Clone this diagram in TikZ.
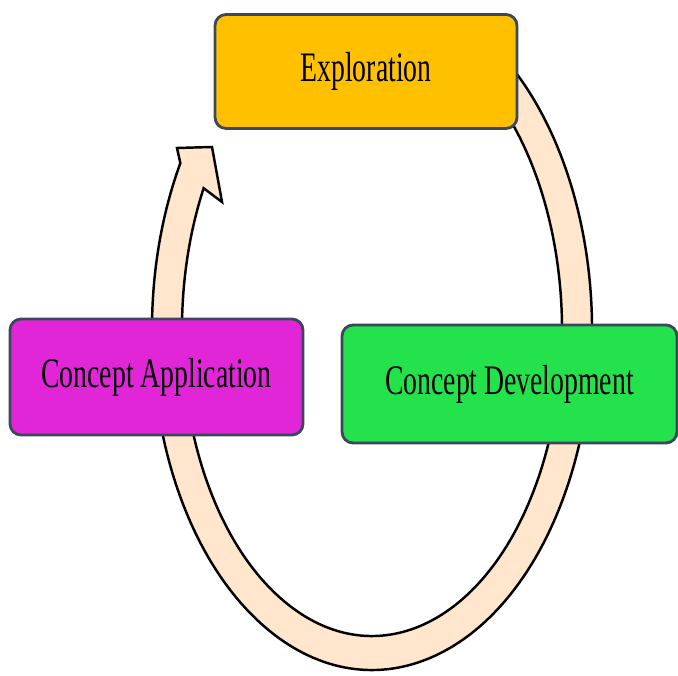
\documentclass[tikz,border=0pt]{standalone}
\usepackage{fontspec}
\newfontfamily\boxfont[FakeStretch=0.66]{Liberation Serif}
\usetikzlibrary{calc}
\definecolor{explorgold}{RGB}{255,192,0}
\definecolor{devgreen}{RGB}{35,226,76}
\definecolor{appmagenta}{RGB}{224,38,214}
\definecolor{boxedge}{RGB}{59,72,92}
\definecolor{ringfill}{RGB}{255,230,204}
\tikzset{stagebox/.style={draw=boxedge, line width=1.6pt, rounded corners=0.22cm, inner sep=0pt, outer sep=0pt, font=\boxfont\fontsize{23.9}{28}\selectfont}}

\begin{document}
\begin{tikzpicture}[x=0.02cm, y=0.02cm]
			%%%%% START %%%%%
			
			\useasboundingbox (0, 0) rectangle (678, 675);
			\coordinate (ringc) at (372, 345);
			
			\draw[fill=ringfill, line width=1.4pt] ($(ringc)+(60:220 and 340)$) arc[start angle=60, end angle=-209.4, x radius=220, y radius=340] -- (177, 527) -- (212, 528) -- (222, 473) -- ($(ringc)+(-207.6:190 and 306)$) arc[start angle=-207.6, end angle=60, x radius=190, y radius=306] -- cycle;
			
			\node[stagebox, fill=explorgold, minimum width=6.04cm, minimum height=2.28cm] (explor) at (366, 603.5) {Exploration};
			\node[stagebox, fill=devgreen, minimum width=6.7cm, minimum height=2.36cm] (dev) at (509.5, 291) {Concept Development};
			\node[stagebox, fill=appmagenta, minimum width=5.86cm, minimum height=2.32cm] (app) at (156.5, 298) {Concept Application};
			
			%%%%% END %%%%%
\end{tikzpicture}
\end{document}
